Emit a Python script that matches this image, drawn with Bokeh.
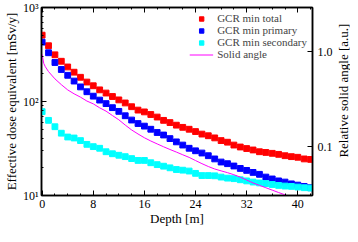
import math
from bokeh.plotting import figure
from bokeh.layouts import row
from bokeh.models import (Range1d, LogAxis, LinearAxis, LogScale, FixedTicker,
                          SingleIntervalTicker, CustomJSTickFormatter, Legend, LegendItem)
from bokeh.core.properties import value
from bokeh.embed import file_html
from bokeh.resources import INLINE

depth = list(range(43))
gcr_total = [508, 392, 314, 268, 233, 205, 181, 161, 147, 133, 123, 113, 104, 96.5, 88, 81,
             77.5, 72.7, 68.3, 63, 59.7, 56, 53.1, 50.7, 47.9, 45, 43.2, 41, 38.4, 36.9, 34.4,
             32.8, 31.6, 30.5, 29.2, 28.7, 28.1, 27.4, 26.5, 25.9, 25.5, 24.5, 24.2]
gcr_primary = [428, 330, 260, 219, 190, 165, 143, 127, 114, 103.5, 95, 86, 78.5, 70.5, 63.5,
               58.3, 54.7, 50.7, 46.8, 44, 40.3, 37.2, 34.4, 31.8, 29.9, 28.3, 26.5, 24.5, 22.7,
               21.8, 20.6, 19.4, 18.5, 17.6, 16.8, 15.7, 15.0, 14.3, 13.9, 13.3, 12.9, 12.5, 12.1]
gcr_secondary = [78, 63, 53.9, 46, 41.9, 40.9, 38.4, 35, 33.1, 31.8, 29.2, 27.8, 26.8, 25.9,
                 24.7, 23.6, 23.6, 22.3, 21.3, 20.5, 19.7, 18.9, 18.6, 18.2, 17.2, 16.3, 16.3,
                 16.2, 15.7, 15.3, 15.1, 14.7, 14.3, 13.9, 13.6, 13.4, 13.1, 12.8, 12.6, 12.5,
                 12.3, 12.1, 12.0]
solid_depth = [0, 0.25, 0.5] + list(range(1, 41))
solid_angle = [0.939, 0.756, 0.697, 0.620, 0.520, 0.452, 0.398, 0.362, 0.334, 0.304, 0.284,
               0.258, 0.238, 0.214, 0.193, 0.170, 0.151, 0.137, 0.125, 0.1156, 0.1077, 0.1005,
               0.0941, 0.0884, 0.0828, 0.0777, 0.0720, 0.0668, 0.0623, 0.0587, 0.0561, 0.0537,
               0.0511, 0.0482, 0.0449, 0.0419, 0.0395, 0.0373, 0.0352, 0.0332, 0.0314, 0.0295,
               0.0278]
left_ticks = [10, 100, 1000]
left_minor = [20, 30, 40, 50, 60, 70, 80, 90, 200, 300, 400, 500, 600, 700, 800, 900]
right_ticks = [0.1, 1.0]
right_title = "Relative solid angle [a.u.]"

FONT = "Liberation Serif"
TOP, BOTTOM, FRAME_H = 7, 31, 188

p = figure(frame_width=271, frame_height=FRAME_H, y_axis_type="log",
           x_range=Range1d(-0.1, 42.3), y_range=Range1d(10, 1000),
           output_backend="svg", toolbar_location=None,
           min_border_left=35, min_border_right=20, min_border_top=TOP, min_border_bottom=BOTTOM)
p.grid.visible = False
p.outline_line_color = "black"
p.outline_line_width = 1.5
p.background_fill_color = "white"

p.extra_y_ranges = {"sa": Range1d(0.0309, 2.925)}
p.extra_y_scales = {"sa": LogScale()}

r_tot = p.scatter(depth, gcr_total, marker="square", size=5.8, color="#ff0000")
r_pri = p.scatter(depth, gcr_primary, marker="square", size=5.8, color="#0000ff")
r_sec = p.scatter(depth, gcr_secondary, marker="square", size=5.8, color="#00ffff")
r_sa = p.line(solid_depth, solid_angle, line_color="#ff00ff", line_width=1, y_range_name="sa")

def style_axis(ax):
    ax.major_tick_in = 5
    ax.major_tick_out = 0
    ax.minor_tick_in = 2
    ax.minor_tick_out = 0
    ax.major_label_text_font = FONT
    ax.major_label_text_font_size = "12px"
    ax.major_label_text_color = "black"
    ax.axis_label_text_font = FONT
    ax.axis_label_text_font_size = "13px"
    ax.axis_label_text_font_style = "normal"
    ax.axis_label_text_color = "black"
    ax.axis_line_width = 1.5

xa = p.xaxis[0]
xa.ticker = SingleIntervalTicker(interval=8, num_minor_ticks=4)
xa.axis_label = "Depth [m]"
style_axis(xa)
xa.major_label_standoff = 4
xa.axis_label_standoff = 0

ya = p.yaxis[0]
ya.ticker = FixedTicker(ticks=left_ticks, minor_ticks=left_minor)
ya.formatter = CustomJSTickFormatter(code="""
const e = Math.round(Math.log10(tick));
const sup = {0:'\u2070',1:'\u00b9',2:'\u00b2',3:'\u00b3'};
return '10' + (sup[e] || '');
""")
ya.axis_label = "Effective dose equivalent [mSv/y]"
style_axis(ya)
ya.major_label_standoff = 3
ya.axis_label_standoff = 1

ra = LogAxis(y_range_name="sa", ticker=FixedTicker(ticks=right_ticks),
             formatter=CustomJSTickFormatter(code="return tick.toFixed(1);"))
style_axis(ra)
ra.major_label_standoff = 5
p.add_layout(ra, "right")

ta = LinearAxis(ticker=SingleIntervalTicker(interval=8, num_minor_ticks=4),
                formatter=CustomJSTickFormatter(code="return '';"))
style_axis(ta)
ta.major_label_standoff = 0
p.add_layout(ta, "above")

legend = Legend(items=[
    LegendItem(label="GCR min total", renderers=[r_tot]),
    LegendItem(label="GCR min primary", renderers=[r_pri]),
    LegendItem(label="GCR min secondary", renderers=[r_sec]),
    LegendItem(label="Solid angle", renderers=[r_sa]),
], location="top_right")
legend.label_text_font = FONT
legend.label_text_font_size = "11px"
legend.label_height = 11
legend.glyph_height = 11
legend.glyph_width = 24
legend.spacing = 0
legend.padding = 2
legend.margin = 5
legend.label_standoff = 4
legend.border_line_color = None
legend.background_fill_alpha = 0
p.add_layout(legend)

# narrow side panel holding the right-hand axis title, reading bottom-to-top
H = TOP + FRAME_H + BOTTOM
p2 = figure(width=15, height=H, x_range=Range1d(0, 1), y_range=Range1d(0, H),
            output_backend="svg", toolbar_location=None, min_border=0)
p2.axis.visible = False
p2.grid.visible = False
p2.outline_line_color = None
p2.text(x=[0.55], y=[H - TOP - FRAME_H / 2], text=[right_title], angle=math.pi / 2,
        text_align="center", text_baseline="middle", text_font=value(FONT),
        text_font_size="13px", text_color="black")

layout = row(p, p2)
open("out.html", "w").write(file_html(layout, INLINE))
